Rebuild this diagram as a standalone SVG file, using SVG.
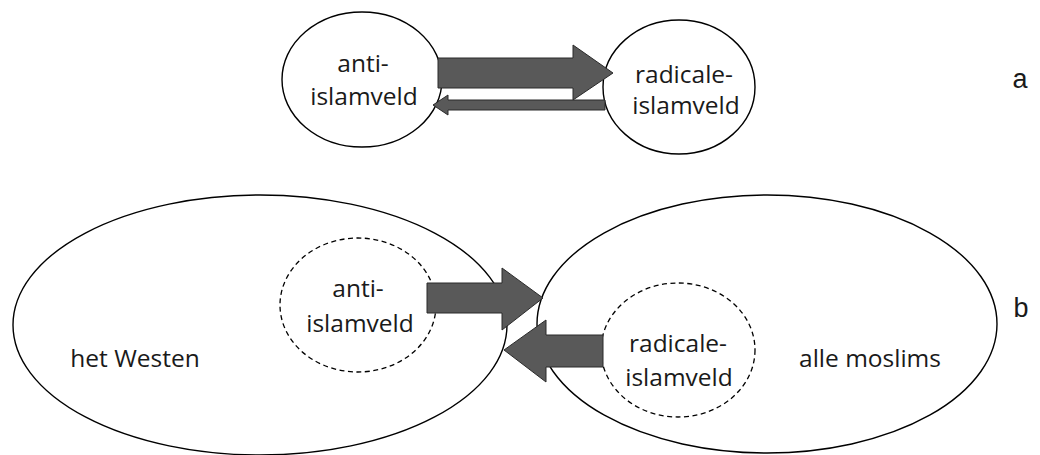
<svg xmlns="http://www.w3.org/2000/svg" width="1040" height="455" viewBox="0 0 1040 455">
<style>
.n{fill:#fff;stroke:#000;stroke-width:1.4}
.d{fill:none;stroke:#000;stroke-width:1.3;stroke-dasharray:5 3.5}
.t{font-family:"Open Sans","Noto Sans",sans-serif;font-size:24.5px;fill:#1a1a1a;text-anchor:middle}
.l{font-family:"Liberation Sans",Arial,sans-serif;font-size:27px;fill:#1a1a1a;text-anchor:middle}
.a{fill:#595959;stroke:#2a2a2a;stroke-width:1;stroke-linejoin:miter}
</style>
<rect width="1040" height="455" fill="#fff"/>
<g id="westen">
<ellipse class="n" cx="260" cy="325" rx="247" ry="130"/>
<text class="t" x="135" y="367">het Westen</text>
</g>
<g id="moslims">
<ellipse class="n" cx="767" cy="324" rx="230" ry="129"/>
<text class="t" x="870" y="367">alle moslims</text>
</g>
<g id="anti-a">
<ellipse class="n" cx="362" cy="79.5" rx="80" ry="67.5"/>
<text class="t" x="363" y="72">anti-</text>
<text class="t" x="364" y="105">islamveld</text>
</g>
<g id="radicale-a">
<ellipse class="n" cx="679" cy="87" rx="76" ry="67"/>
<text class="t" x="684" y="83">radicale-</text>
<text class="t" x="686" y="114">islamveld</text>
</g>
<g id="anti-b">
<ellipse class="d" cx="358" cy="305" rx="78" ry="67"/>
<text class="t" x="358" y="297">anti-</text>
<text class="t" x="360" y="332">islamveld</text>
</g>
<g id="radicale-b">
<ellipse class="d" cx="678" cy="350" rx="77" ry="67"/>
<text class="t" x="678" y="352">radicale-</text>
<text class="t" x="679" y="386">islamveld</text>
</g>
<g id="label-a"><text class="l" x="1020" y="88">a</text></g>
<g id="label-b"><text class="l" x="1021" y="317">b</text></g>
<g id="connectors">
<polygon class="a" points="438,58 573,58 573,45 613,73 573,100 573,88 438,88"/>
<polygon class="a" points="605,100 448,100 448,95 433,105 448,115 448,110 605,110"/>
<polygon class="a" points="427,283 502,283 502,268 543,298 502,330 502,313 427,313"/>
<polygon class="a" points="603,335 546,335 546,320 504,350 546,382 546,367 603,367"/>
</g>
</svg>
